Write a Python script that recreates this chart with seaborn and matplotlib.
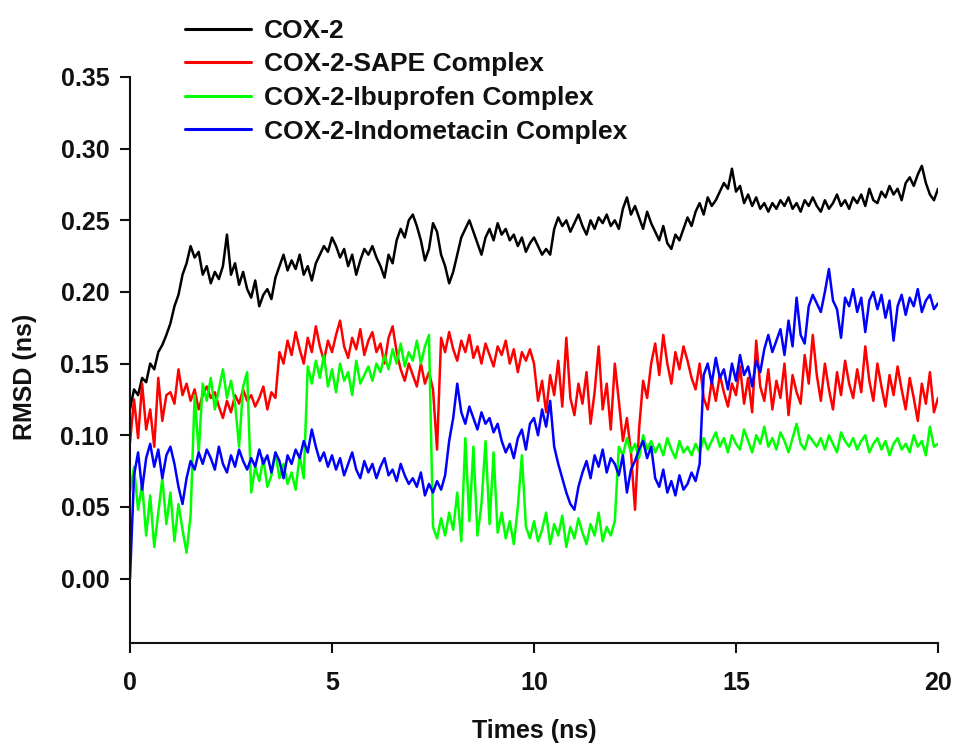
import numpy as np
import pandas as pd
import matplotlib
matplotlib.use("Agg")
import matplotlib.pyplot as plt
import seaborn as sns

# ---- data (RMSD vs time, sampled every 0.1 ns) ----
time_ns = [round(i * 0.1, 1) for i in range(201)]

cox2 = [
    0.118, 0.132, 0.128, 0.140, 0.137, 0.150, 0.146, 0.158, 0.163, 0.170,
    0.178, 0.190, 0.198, 0.212, 0.220, 0.232, 0.224, 0.228, 0.212, 0.218,
    0.206, 0.214, 0.209, 0.218, 0.240, 0.212, 0.220, 0.205, 0.214, 0.202,
    0.196, 0.208, 0.190, 0.198, 0.202, 0.195, 0.210, 0.218, 0.226, 0.215,
    0.222, 0.216, 0.226, 0.212, 0.218, 0.208, 0.220, 0.226, 0.232, 0.228,
    0.238, 0.232, 0.224, 0.230, 0.218, 0.226, 0.212, 0.222, 0.230, 0.226,
    0.232, 0.224, 0.218, 0.210, 0.226, 0.220, 0.236, 0.244, 0.238, 0.250,
    0.254, 0.246, 0.236, 0.222, 0.230, 0.248, 0.242, 0.226, 0.218, 0.206,
    0.214, 0.226, 0.238, 0.244, 0.250, 0.242, 0.234, 0.226, 0.238, 0.244,
    0.236, 0.248, 0.240, 0.244, 0.236, 0.240, 0.232, 0.238, 0.228, 0.234,
    0.238, 0.232, 0.226, 0.230, 0.226, 0.244, 0.252, 0.246, 0.250, 0.242,
    0.248, 0.254, 0.246, 0.240, 0.250, 0.244, 0.252, 0.248, 0.254, 0.246,
    0.250, 0.244, 0.258, 0.266, 0.254, 0.260, 0.252, 0.244, 0.256, 0.248,
    0.242, 0.236, 0.246, 0.234, 0.230, 0.240, 0.236, 0.244, 0.252, 0.246,
    0.256, 0.262, 0.254, 0.266, 0.260, 0.264, 0.270, 0.276, 0.272, 0.286,
    0.270, 0.274, 0.262, 0.268, 0.260, 0.266, 0.258, 0.262, 0.256, 0.262,
    0.258, 0.264, 0.260, 0.266, 0.258, 0.262, 0.256, 0.264, 0.260, 0.266,
    0.260, 0.256, 0.264, 0.258, 0.262, 0.268, 0.260, 0.264, 0.258, 0.266,
    0.262, 0.268, 0.260, 0.272, 0.264, 0.262, 0.270, 0.266, 0.274, 0.268,
    0.272, 0.264, 0.276, 0.280, 0.274, 0.282, 0.288, 0.276, 0.268, 0.264,
    0.272,
]

sape = [
    0.095, 0.125, 0.098, 0.136, 0.104, 0.118, 0.092, 0.140, 0.110, 0.128,
    0.130, 0.122, 0.146, 0.128, 0.136, 0.124, 0.132, 0.118, 0.128, 0.134,
    0.126, 0.130, 0.120, 0.112, 0.124, 0.116, 0.128, 0.122, 0.132, 0.124,
    0.128, 0.120, 0.126, 0.134, 0.118, 0.130, 0.126, 0.158, 0.150, 0.166,
    0.156, 0.172, 0.160, 0.150, 0.168, 0.158, 0.176, 0.162, 0.152, 0.166,
    0.158, 0.170, 0.180, 0.162, 0.154, 0.168, 0.160, 0.174, 0.156, 0.166,
    0.172, 0.158, 0.164, 0.150, 0.168, 0.176, 0.158, 0.146, 0.138, 0.150,
    0.142, 0.134, 0.150, 0.136, 0.144, 0.132, 0.090, 0.168, 0.158, 0.172,
    0.160, 0.152, 0.166, 0.158, 0.170, 0.154, 0.162, 0.150, 0.164, 0.156,
    0.148, 0.162, 0.156, 0.166, 0.150, 0.160, 0.144, 0.158, 0.152, 0.160,
    0.150, 0.124, 0.138, 0.116, 0.142, 0.128, 0.152, 0.120, 0.168, 0.126,
    0.114, 0.136, 0.122, 0.144, 0.108, 0.130, 0.162, 0.118, 0.136, 0.104,
    0.150, 0.124, 0.096, 0.112, 0.088, 0.048, 0.104, 0.138, 0.126, 0.150,
    0.164, 0.142, 0.170, 0.150, 0.136, 0.158, 0.146, 0.162, 0.152, 0.140,
    0.132, 0.150, 0.126, 0.118, 0.138, 0.124, 0.142, 0.130, 0.120, 0.136,
    0.128, 0.148, 0.122, 0.140, 0.116, 0.166, 0.134, 0.124, 0.146, 0.118,
    0.138, 0.126, 0.150, 0.114, 0.142, 0.130, 0.122, 0.156, 0.136, 0.170,
    0.142, 0.124, 0.150, 0.132, 0.118, 0.144, 0.128, 0.152, 0.136, 0.126,
    0.146, 0.130, 0.162, 0.138, 0.124, 0.150, 0.134, 0.120, 0.142, 0.128,
    0.148, 0.132, 0.118, 0.140, 0.126, 0.110, 0.136, 0.122, 0.144, 0.116,
    0.126,
]

ibuprofen = [
    0.060, 0.078, 0.048, 0.066, 0.030, 0.058, 0.022, 0.046, 0.070, 0.038,
    0.060, 0.026, 0.052, 0.034, 0.018, 0.044, 0.128, 0.088, 0.136, 0.124,
    0.140, 0.118, 0.132, 0.146, 0.126, 0.138, 0.122, 0.092, 0.134, 0.144,
    0.060, 0.078, 0.068, 0.084, 0.064, 0.072, 0.088, 0.070, 0.080, 0.066,
    0.074, 0.062, 0.086, 0.070, 0.148, 0.136, 0.152, 0.140, 0.156, 0.134,
    0.146, 0.130, 0.150, 0.138, 0.144, 0.128, 0.152, 0.136, 0.142, 0.148,
    0.138, 0.150, 0.144, 0.156, 0.146, 0.160, 0.150, 0.164, 0.148, 0.158,
    0.152, 0.166, 0.150, 0.162, 0.170, 0.036, 0.028, 0.042, 0.030, 0.046,
    0.034, 0.060, 0.026, 0.098, 0.040, 0.092, 0.030, 0.052, 0.096, 0.038,
    0.088, 0.032, 0.046, 0.028, 0.040, 0.024, 0.050, 0.086, 0.036, 0.028,
    0.040, 0.026, 0.034, 0.046, 0.024, 0.038, 0.030, 0.044, 0.022, 0.036,
    0.028, 0.042, 0.032, 0.024, 0.038, 0.030, 0.046, 0.026, 0.036, 0.030,
    0.040, 0.092, 0.086, 0.098, 0.088, 0.094, 0.084, 0.100, 0.090, 0.096,
    0.088, 0.094, 0.086, 0.098, 0.090, 0.084, 0.096, 0.088, 0.092, 0.086,
    0.094, 0.088, 0.098, 0.090, 0.096, 0.102, 0.092, 0.098, 0.088, 0.100,
    0.094, 0.090, 0.104, 0.096, 0.088, 0.100, 0.094, 0.106, 0.092, 0.098,
    0.090, 0.102, 0.096, 0.088, 0.098, 0.108, 0.094, 0.090, 0.100, 0.096,
    0.092, 0.098, 0.090, 0.100, 0.094, 0.088, 0.102, 0.096, 0.092, 0.098,
    0.090, 0.096, 0.100, 0.088, 0.094, 0.098, 0.090, 0.096, 0.086, 0.094,
    0.098, 0.090, 0.094, 0.088, 0.100, 0.092, 0.096, 0.086, 0.106, 0.092,
    0.094,
]

indometacin = [
    0.000, 0.072, 0.088, 0.062, 0.084, 0.094, 0.078, 0.090, 0.070, 0.086,
    0.092, 0.080, 0.064, 0.052, 0.070, 0.082, 0.076, 0.088, 0.080, 0.090,
    0.084, 0.076, 0.092, 0.080, 0.074, 0.086, 0.078, 0.090, 0.082, 0.076,
    0.084, 0.078, 0.090, 0.080, 0.086, 0.074, 0.088, 0.082, 0.070, 0.086,
    0.080, 0.090, 0.084, 0.096, 0.088, 0.104, 0.092, 0.082, 0.088, 0.078,
    0.086, 0.076, 0.084, 0.072, 0.080, 0.088, 0.076, 0.070, 0.082, 0.074,
    0.080, 0.070, 0.078, 0.084, 0.072, 0.076, 0.068, 0.080, 0.072, 0.066,
    0.070, 0.064, 0.074, 0.058, 0.066, 0.060, 0.068, 0.062, 0.072, 0.096,
    0.112, 0.136, 0.116, 0.108, 0.120, 0.112, 0.104, 0.116, 0.108, 0.112,
    0.102, 0.108, 0.096, 0.088, 0.094, 0.084, 0.098, 0.104, 0.090, 0.108,
    0.112, 0.100, 0.118, 0.106, 0.124, 0.092, 0.080, 0.070, 0.060, 0.052,
    0.048, 0.064, 0.074, 0.082, 0.070, 0.086, 0.078, 0.090, 0.074, 0.084,
    0.080, 0.072, 0.086, 0.060, 0.076, 0.082, 0.090, 0.096, 0.084, 0.092,
    0.070, 0.064, 0.076, 0.060, 0.068, 0.058, 0.072, 0.062, 0.066, 0.074,
    0.068, 0.080, 0.142, 0.150, 0.136, 0.154, 0.140, 0.146, 0.132, 0.150,
    0.138, 0.156, 0.142, 0.148, 0.134, 0.152, 0.144, 0.160, 0.170, 0.158,
    0.166, 0.174, 0.156, 0.180, 0.162, 0.196, 0.170, 0.164, 0.190, 0.198,
    0.192, 0.186, 0.200, 0.216, 0.194, 0.188, 0.168, 0.196, 0.190, 0.202,
    0.186, 0.196, 0.172, 0.194, 0.200, 0.188, 0.198, 0.182, 0.194, 0.166,
    0.190, 0.198, 0.184, 0.196, 0.190, 0.202, 0.186, 0.194, 0.198, 0.188,
    0.192,
]

series_names = ["COX-2", "COX-2-SAPE Complex", "COX-2-Ibuprofen Complex",
                "COX-2-Indometacin Complex"]
series_colors = ["#000000", "#ff0000", "#00ff00", "#0000ff"]
x_ticks = [0, 5, 10, 15, 20]
y_ticks = [0.00, 0.05, 0.10, 0.15, 0.20, 0.25, 0.30, 0.35]

frames = []
for name, vals in zip(series_names, [cox2, sape, ibuprofen, indometacin]):
    frames.append(pd.DataFrame({"time": time_ns, "rmsd": vals, "series": name}))
df = pd.concat(frames, ignore_index=True)

# ---- style ----
sns.set_style("ticks")
plt.rcParams["font.family"] = ["Liberation Sans", "DejaVu Sans"]
plt.rcParams["font.weight"] = "bold"
plt.rcParams["text.color"] = "#111111"
plt.rcParams["axes.labelcolor"] = "#111111"

fig = plt.figure(figsize=(9.55, 7.45), dpi=100)
ax = fig.add_axes([130 / 955, 1 - 643 / 745, 808 / 955, 566 / 745])

sns.lineplot(data=df, x="time", y="rmsd", hue="series", hue_order=series_names,
             palette=series_colors, estimator=None, linewidth=1.8, ax=ax)

ax.set_xlim(0, 20)
ax.set_ylim(-0.045, 0.35)
ax.set_xticks(x_ticks)
ax.set_xticklabels([str(v) for v in x_ticks])
ax.set_yticks(y_ticks)
ax.set_yticklabels([f"{v:.2f}" for v in y_ticks])
ax.spines["top"].set_visible(False)
ax.spines["right"].set_visible(False)
ax.spines["left"].set_bounds(-0.045, 0.35)
for s in ("left", "bottom"):
    ax.spines[s].set_linewidth(1.5)
    ax.spines[s].set_color("#111111")
ax.tick_params(axis="both", direction="out", length=7, width=1.5,
               colors="#111111", labelsize=18)
ax.tick_params(axis="x", pad=13)
ax.tick_params(axis="y", pad=8)
for lab in ax.get_xticklabels() + ax.get_yticklabels():
    lab.set_fontweight("bold")

ax.set_xlabel("Times (ns)", fontsize=18, fontweight="bold", color="#111111")
ax.set_ylabel("RMSD (ns)", fontsize=18, fontweight="bold", color="#111111")
ax.xaxis.set_label_coords(0.5, -0.135)
ax.yaxis.set_label_coords(-0.115, 0.47)

handles, labels = ax.get_legend_handles_labels()
for h in handles:
    h.set_linewidth(2.2)
leg = ax.legend(handles, labels, loc="upper left",
                bbox_to_anchor=(185 / 955, 1 - 19 / 745),
                bbox_transform=fig.transFigure, frameon=False,
                borderpad=0, borderaxespad=0, handlelength=2.5,
                handletextpad=0.5, labelspacing=0.36,
                prop={"size": 19, "weight": "bold"})
for t in leg.get_texts():
    t.set_color("#111111")

fig.savefig("out.png", dpi=100)
